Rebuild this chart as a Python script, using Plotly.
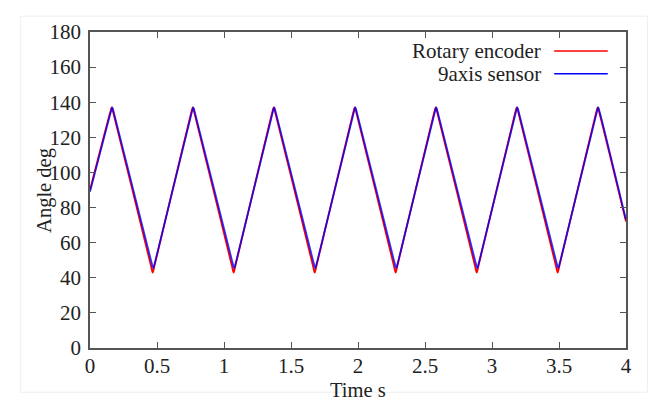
import plotly.graph_objects as go

# time (s) / angle (deg)
t_encoder = [0.000, 0.150, 0.162, 0.174, 0.456, 0.468, 0.480, 0.755, 0.767, 0.779,
             1.060, 1.072, 1.084, 1.359, 1.371, 1.383, 1.665, 1.677, 1.689, 1.964,
             1.976, 1.988, 2.269, 2.281, 2.293, 2.568, 2.580, 2.592, 2.874, 2.886,
             2.898, 3.173, 3.185, 3.197, 3.478, 3.490, 3.502, 3.777, 3.789, 3.801, 4.000]
angle_encoder = [90.0, 134.0, 137.0, 134.0, 46.5, 43.0, 46.5, 134.0, 137.0, 134.0,
                 46.5, 43.0, 46.5, 134.0, 137.0, 134.0, 46.5, 43.0, 46.5, 134.0,
                 137.0, 134.0, 46.5, 43.0, 46.5, 134.0, 137.0, 134.0, 46.5, 43.0,
                 46.5, 134.0, 137.0, 134.0, 46.5, 43.0, 46.5, 134.0, 137.0, 134.0, 72.0]

t_sensor = [0.000, 0.154, 0.166, 0.178, 0.460, 0.472, 0.484, 0.759, 0.771, 0.783,
            1.064, 1.076, 1.088, 1.363, 1.375, 1.387, 1.669, 1.681, 1.693, 1.968,
            1.980, 1.992, 2.273, 2.285, 2.297, 2.572, 2.584, 2.596, 2.878, 2.890,
            2.902, 3.177, 3.189, 3.201, 3.482, 3.494, 3.506, 3.781, 3.793, 3.805, 4.000]
angle_sensor = [89.0, 134.0, 137.0, 134.0, 48.5, 45.5, 48.5, 134.0, 137.0, 134.0,
                48.5, 45.5, 48.5, 134.0, 137.0, 134.0, 48.5, 45.5, 48.5, 134.0,
                137.0, 134.0, 48.5, 45.5, 48.5, 134.0, 137.0, 134.0, 48.5, 45.5,
                48.5, 134.0, 137.0, 134.0, 48.5, 45.5, 48.5, 134.0, 137.0, 134.0, 73.0]

x_ticks = [0, 0.5, 1, 1.5, 2, 2.5, 3, 3.5, 4]
x_labels = ['0', '0.5', '1', '1.5', '2', '2.5', '3', '3.5', '4']
y_ticks = [0, 20, 40, 60, 80, 100, 120, 140, 160, 180]

names = ['Rotary encoder', '9axis sensor']
colors = ['#ff0000', '#0000ff']

font = 'Liberation Serif'
axis_color = '#555555'
text_color = '#222222'

fig = go.Figure()
fig.add_trace(go.Scatter(x=t_encoder, y=angle_encoder, mode='lines', name=names[0],
                         line=dict(color=colors[0], width=1.8, shape='spline', smoothing=0.8),
                         showlegend=False))
fig.add_trace(go.Scatter(x=t_sensor, y=angle_sensor, mode='lines', name=names[1],
                         line=dict(color=colors[1], width=1.8, shape='spline', smoothing=0.8),
                         opacity=0.8, showlegend=False))

axis = dict(showgrid=False, zeroline=False, showline=True, linecolor=axis_color, linewidth=1.5,
            mirror='ticks', ticks='inside', ticklen=6, tickcolor=axis_color, tickwidth=1.2,
            tickfont=dict(family=font, size=21, color=text_color))

# page body has an 8px margin, so the figure is 8px smaller and margins shifted
fig.update_layout(
  width=651, height=393,
  margin=dict(l=82, r=33, t=14, b=53),
  paper_bgcolor='white', plot_bgcolor='white',
  xaxis=dict(axis, range=[0, 4], tickvals=x_ticks, ticktext=x_labels, ticklabelstandoff=-2),
  yaxis=dict(axis, range=[0, 180], tickvals=y_ticks, ticklabelstandoff=3),
)

# gnuplot style key: text right-aligned, line sample on the right
for i, (name, col) in enumerate(zip(names, colors)):
  yy = 0.940 - i * 0.072
  fig.add_annotation(x=0.845, y=yy, xref='paper', yref='paper', text=name, showarrow=False,
                     xanchor='right', yanchor='middle', font=dict(family=font, size=21, color=text_color))
  fig.add_shape(type='line', xref='paper', yref='paper', x0=0.866, x1=0.966, y0=yy, y1=yy,
                line=dict(color=col, width=1.5))

fig.add_annotation(x=-0.086, y=0.5, xref='paper', yref='paper', text='Angle deg', textangle=-90,
                   showarrow=False, xanchor='center', yanchor='middle',
                   font=dict(family=font, size=20.5, color=text_color))
fig.add_annotation(x=0.5, y=-0.134, xref='paper', yref='paper', text='Time s', showarrow=False,
                   xanchor='center', yanchor='middle', font=dict(family=font, size=20.5, color=text_color))

# faint outer frame of the original figure
fig.add_shape(type='rect', xref='paper', yref='paper', x0=-0.13, x1=1.04, y0=-0.14, y1=1.05,
              line=dict(color='#eeeeee', width=1))

fig.write_html("out.html")
